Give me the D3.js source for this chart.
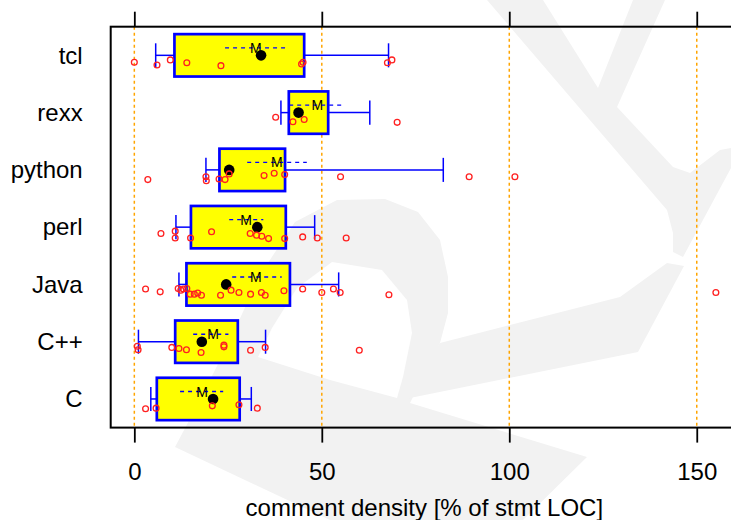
<!DOCTYPE html>
<html>
<head>
<meta charset="utf-8">
<script src="https://cdn.jsdelivr.net/npm/d3@7"></script>
<style>
  html, body { margin: 0; padding: 0; background: #fff; }
  svg { display: block; font-family: "Liberation Sans", Arial, Helvetica, sans-serif; }
</style>
</head>
<body>
<svg id="chart" width="731" height="520"></svg>
<script>
// Languages, bottom row first
const categories = ["C", "C++", "Java", "perl", "python", "rexx", "tcl"];

// Box: 25%/75% quantiles; whiskers: 10%/90% quantiles
const p10     = [4.4, 1.1, 11.9, 11.1, 19.1, 39.1, 5.7];
const q1      = [6.0, 10.9, 13.9, 15.1, 22.7, 41.2, 10.7];
const medians = [21.0, 18.0, 24.5, 32.8, 25.3, 43.8, 33.8];
const q3      = [28.1, 27.6, 41.5, 40.4, 40.2, 51.7, 45.3];
const p90     = [31.2, 35.0, 54.5, 48.1, 82.4, 62.8, 67.8];

// Mean and mean +/- one standard error
const means  = [18.1, 21.0, 32.4, 29.8, 38.0, 48.8, 32.4];
const seLow  = [12.2, 15.7, 26.1, 25.3, 30.1, 41.3, 24.2];
const seHigh = [23.7, 25.1, 39.3, 34.4, 46.0, 55.3, 40.4];

// Individual programs per language
const pointValues = [
  [3, 5.8, 20.8, 27.9, 32.8],
  [0.8, 1.0, 10, 11.9, 13.9, 17.8, 23.9, 23.9, 31, 34.9, 60],
  [3, 6.9, 11.7, 12.4, 13.1, 14, 14.9, 16, 16.9, 17.9, 23, 25.8, 27.9, 31, 33.9, 34.9, 39.9, 44.9, 50, 53.1, 54.9, 67.9, 155.1],
  [7.1, 10.9, 10.9, 15, 20.6, 30.9, 32.6, 34, 35.8, 40.1, 44.9, 48.8, 56.5],
  [3.6, 19.1, 19.2, 22.6, 24.2, 25.3, 34.6, 37.3, 40.1, 55, 89.3, 101.5],
  [37.7, 42.3, 45.3, 70.1],
  [0, 6.05, 9.6, 14, 23.1, 44.6, 45, 67.5, 68.7]
];
// Vertical jitter of each program, in row units
const pointJitter = [
  [-0.17, -0.16, -0.12, -0.10, -0.16],
  [-0.08, -0.14, -0.10, -0.12, -0.14, -0.19, -0.06, -0.09, -0.15, -0.10, -0.15],
  [-0.08, -0.13, -0.07, -0.10, -0.08, -0.07, -0.17, -0.17, -0.15, -0.19, -0.19, -0.10, -0.14, -0.17, -0.14, -0.19, -0.11, -0.08, -0.14, -0.08, -0.14, -0.18, -0.14],
  [-0.11, -0.07, -0.19, -0.19, -0.08, -0.11, -0.14, -0.16, -0.20, -0.20, -0.17, -0.19, -0.19],
  [-0.17, -0.12, -0.19, -0.16, -0.17, -0.07, -0.10, -0.06, -0.08, -0.12, -0.12, -0.12],
  [-0.08, -0.16, -0.12, -0.17],
  [-0.12, -0.17, -0.08, -0.13, -0.18, -0.15, -0.12, -0.13, -0.08]
];

const xTicks = [0, 50, 100, 150];
const xTitle = "comment density [% of stmt LOC]";

const svg = d3.select("#chart");

const x = d3.scaleLinear().domain([-6.3, 161]).range([110.7, 738]);
const y = d3.scaleLinear().domain([0.5, 7.5]).range([427.6, 26.7]);
const row = i => i + 1;

// Faint backdrop emblem
const backdrop = svg.append("g").attr("class", "backdrop");
const shade = "#f2f2f2";
backdrop.append("path").attr("fill", shade)
  .attr("d", "M175,447 L200,400 L230,340 L260,275 L295,222 L337,200 L385,199 L418,212 L440,240 L448,277 L448,313 L440,343 L410,403 L587,457 L523,520 L330,520 Z");
backdrop.append("path").attr("fill", "#fff")
  .attr("d", "M397,398 L403,377 L412,333 L407,300 L382,270 L332,262 L297,288 L272,328 L258,357 L330,380 Z");
backdrop.append("path").attr("fill", shade)
  .attr("d", "M667,263 L684,266 L638,352 L400,400 L440,343 L620,297 Z");
backdrop.append("path").attr("fill", shade)
  .attr("d", "M487,0 L543,0 L598,88 L633,0 L665,0 L617,107 L673,167 L690,173 L720,150 L731,148 L731,168 L683,257 L673,252 L673,233 L667,210 Z");

// Reference lines at the major ticks
svg.append("g").selectAll("line")
  .data(xTicks).join("line")
  .attr("x1", d => x(d)).attr("x2", d => x(d))
  .attr("y1", y(7.5)).attr("y2", y(0.5))
  .attr("stroke", "#FFA500").attr("stroke-width", 1.5)
  .attr("stroke-dasharray", "3,3");

const rows = svg.append("g").selectAll("g.row")
  .data(categories).join("g").attr("class", "row");

// whiskers
rows.append("line")
  .attr("x1", (d, i) => x(p10[i])).attr("x2", (d, i) => x(q1[i]))
  .attr("y1", (d, i) => y(row(i))).attr("y2", (d, i) => y(row(i)))
  .attr("stroke", "#0000ff").attr("stroke-width", 1.5);
rows.append("line")
  .attr("x1", (d, i) => x(q3[i])).attr("x2", (d, i) => x(p90[i]))
  .attr("y1", (d, i) => y(row(i))).attr("y2", (d, i) => y(row(i)))
  .attr("stroke", "#0000ff").attr("stroke-width", 1.5);
rows.append("line")
  .attr("x1", (d, i) => x(p10[i])).attr("x2", (d, i) => x(p10[i]))
  .attr("y1", (d, i) => y(row(i) + 0.21)).attr("y2", (d, i) => y(row(i) - 0.21))
  .attr("stroke", "#0000ff").attr("stroke-width", 1.5);
rows.append("line")
  .attr("x1", (d, i) => x(p90[i])).attr("x2", (d, i) => x(p90[i]))
  .attr("y1", (d, i) => y(row(i) + 0.21)).attr("y2", (d, i) => y(row(i) - 0.21))
  .attr("stroke", "#0000ff").attr("stroke-width", 1.5);

// boxes
rows.append("rect")
  .attr("x", (d, i) => x(q1[i]))
  .attr("width", (d, i) => x(q3[i]) - x(q1[i]))
  .attr("y", (d, i) => y(row(i) + 0.37))
  .attr("height", (d, i) => y(row(i) - 0.37) - y(row(i) + 0.37))
  .attr("fill", "#ffff00").attr("stroke", "#0000ff").attr("stroke-width", 2.7);

// mean +/- standard error
rows.append("line")
  .attr("x1", (d, i) => x(seLow[i])).attr("x2", (d, i) => x(seHigh[i]))
  .attr("y1", (d, i) => y(row(i) + 0.13)).attr("y2", (d, i) => y(row(i) + 0.13))
  .attr("stroke", "#0000ff").attr("stroke-width", 1.3)
  .attr("stroke-dasharray", "4,4");
rows.append("text")
  .attr("x", (d, i) => x(means[i]))
  .attr("y", (d, i) => y(row(i) + 0.13))
  .attr("text-anchor", "middle").attr("dominant-baseline", "central")
  .attr("font-size", 14).attr("fill", "#000")
  .text("M");

// median
rows.append("circle")
  .attr("cx", (d, i) => x(medians[i]))
  .attr("cy", (d, i) => y(row(i)))
  .attr("r", 5.3).attr("fill", "#000");

// individual programs
rows.each(function (d, i) {
  d3.select(this).selectAll("circle.pt")
    .data(pointValues[i].map((v, j) => ({ v, j: pointJitter[i][j] })))
    .join("circle").attr("class", "pt")
    .attr("cx", p => x(p.v))
    .attr("cy", p => y(row(i) + p.j))
    .attr("r", 2.9)
    .attr("fill", "none").attr("stroke", "#ff2020").attr("stroke-width", 1.3);
});

// frame
svg.append("rect")
  .attr("x", x(-6.3)).attr("y", y(7.5))
  .attr("width", x(161) - x(-6.3)).attr("height", y(0.5) - y(7.5))
  .attr("fill", "none").attr("stroke", "#000").attr("stroke-width", 2);

// axes
const bottomAxis = svg.append("g")
  .attr("transform", `translate(0,${y(0.5)})`)
  .call(d3.axisBottom(x).tickValues(xTicks).tickSize(15).tickPadding(20));
bottomAxis.select(".domain").remove();
bottomAxis.selectAll("line").attr("stroke", "#000").attr("stroke-width", 1.8);
bottomAxis.selectAll("text").attr("font-size", 24).attr("font-family", "Liberation Sans, Arial, sans-serif").attr("fill", "#000");

const topAxis = svg.append("g")
  .attr("transform", `translate(0,${y(7.5)})`)
  .call(d3.axisTop(x).tickValues(xTicks).tickSize(15).tickFormat(""));
topAxis.select(".domain").remove();
topAxis.selectAll("line").attr("stroke", "#000").attr("stroke-width", 1.8);

const leftAxis = svg.append("g")
  .attr("transform", `translate(${x(-6.3)},0)`)
  .call(d3.axisLeft(y).tickValues(categories.map((c, i) => row(i)))
    .tickFormat(v => categories[v - 1]).tickSize(0).tickPadding(28));
leftAxis.select(".domain").remove();
leftAxis.selectAll("text").attr("font-size", 24).attr("font-family", "Liberation Sans, Arial, sans-serif").attr("fill", "#000");

svg.append("text")
  .attr("x", (x(-6.3) + x(161)) / 2).attr("y", 516)
  .attr("text-anchor", "middle").attr("font-size", 24).attr("fill", "#000")
  .text(xTitle);
</script>
</body>
</html>
